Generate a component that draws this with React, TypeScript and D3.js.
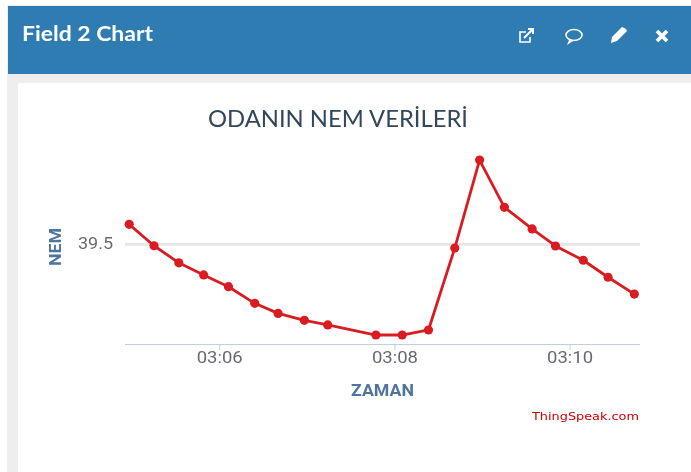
import React from "react";
import * as d3 from "d3";

const seconds = [298,315,332,349,366,384,400,418,434,467,485,503,521,538,555,574,590,609,626,644];
const humidity = [39.595,39.493,39.412,39.354,39.298,39.219,39.171,39.138,39.116,39.068,39.068,39.092,39.482,39.901,39.676,39.573,39.492,39.424,39.343,39.263];
const xTicks = [360, 480, 600];
const yTicks = [39.5];
const title = "ODANIN NEM VERİLERİ";
const panelTitle = "Field 2 Chart";

const lato = "Lato, 'Open Sans', sans-serif";
const roboto = "Roboto, 'Noto Sans', sans-serif";
const fmt = (s: number) => `03:${String(Math.floor(s / 60)).padStart(2, "0")}`;

export default function App() {
  const x = d3.scaleLinear().domain([360, 480]).range([219.7, 394.9]);
  const y = d3.scaleLinear().domain([39.5, 39.9]).range([244.3, 160.3]);
  const line = d3.line<number>().x((_, i) => x(seconds[i])).y((d) => y(d));
  return (
    <svg width={691} height={472} style={{ position: "fixed", left: 0, top: 0, display: "block" }}>
      <defs>
        <filter id="soft" x="0" y="0" width="100%" height="100%">
          <feGaussianBlur stdDeviation={0.55} />
        </filter>
      </defs>
      <g filter="url(#soft)">
        <rect width={691} height={472} fill="#ffffff" />
        <rect x={7} y={5} width={684} height={467} fill="#eeeeee" />
        <rect x={8} y={6} width={683} height={68} fill="#2e7cb1" />
        <rect x={18} y={83} width={673} height={389} fill="#ffffff" />
        <text x={22} y={41} fill="#ffffff" fontFamily={lato} fontWeight={700} fontSize={20.5} textLength={131} lengthAdjust="spacingAndGlyphs">{panelTitle}</text>

        <g fill="none" stroke="#ffffff" strokeWidth={1.6}>
          <path d="M526 32 h-6 v10 h10 v-5" />
          <path d="M524 38 L533 29 M528 29 h5 v5" strokeWidth={2} />
          <ellipse cx={574} cy={35} rx={8} ry={5.5} />
        </g>
        <path d="M569 40 L567 45 L573 41 Z" fill="#ffffff" />
        <path d="M611 43 L612 37 L622 27 Q626 28 627 31 L617 41 Z" fill="#ffffff" />
        <path d="M657 31 L667 41 M667 31 L657 41" stroke="#ffffff" strokeWidth={3.8} />

        <text x={338} y={127} textAnchor="middle" fill="#33475c" fontFamily={lato} fontSize={22.5} textLength={260} lengthAdjust="spacingAndGlyphs">{title}</text>

        {yTicks.map((t) => (
          <g key={t}>
            <line x1={125} x2={640} y1={y(t)} y2={y(t)} stroke="#e6e6e6" strokeWidth={3} />
            <text x={113} y={y(t) + 4.5} textAnchor="end" fill="#666a70" fontFamily={roboto} fontSize={16} textLength={35} lengthAdjust="spacingAndGlyphs">{t}</text>
          </g>
        ))}
        <line x1={125} x2={640} y1={344.5} y2={344.5} stroke="#c0d0e0" strokeWidth={1} />
        {xTicks.map((t) => (
          <g key={t}>
            <line x1={x(t)} x2={x(t)} y1={344} y2={350} stroke="#c0d0e0" strokeWidth={1} />
            <text x={x(t)} y={363} textAnchor="middle" fill="#666a70" fontFamily={roboto} fontSize={16} textLength={46} lengthAdjust="spacingAndGlyphs">{fmt(t)}</text>
          </g>
        ))}
        <text transform="translate(61,247) rotate(-90)" textAnchor="middle" fill="#4d759e" fontFamily={roboto} fontWeight={700} fontSize={16} textLength={38} lengthAdjust="spacingAndGlyphs">NEM</text>
        <text x={382.5} y={396} textAnchor="middle" fill="#4d759e" fontFamily={roboto} fontWeight={700} fontSize={16} textLength={63} lengthAdjust="spacingAndGlyphs">ZAMAN</text>
        <text x={639} y={420} textAnchor="end" fill="#cc0000" fontFamily="'DejaVu Sans', sans-serif" fontSize={11} textLength={107} lengthAdjust="spacingAndGlyphs">ThingSpeak.com</text>

        <path d={line(humidity) ?? ""} fill="none" stroke="#d91e22" strokeWidth={2.8} strokeLinejoin="round" />
        {humidity.map((d, i) => (
          <circle key={i} cx={x(seconds[i])} cy={y(d)} r={4.6} fill="#d91e22" />
        ))}
      </g>
    </svg>
  );
}
